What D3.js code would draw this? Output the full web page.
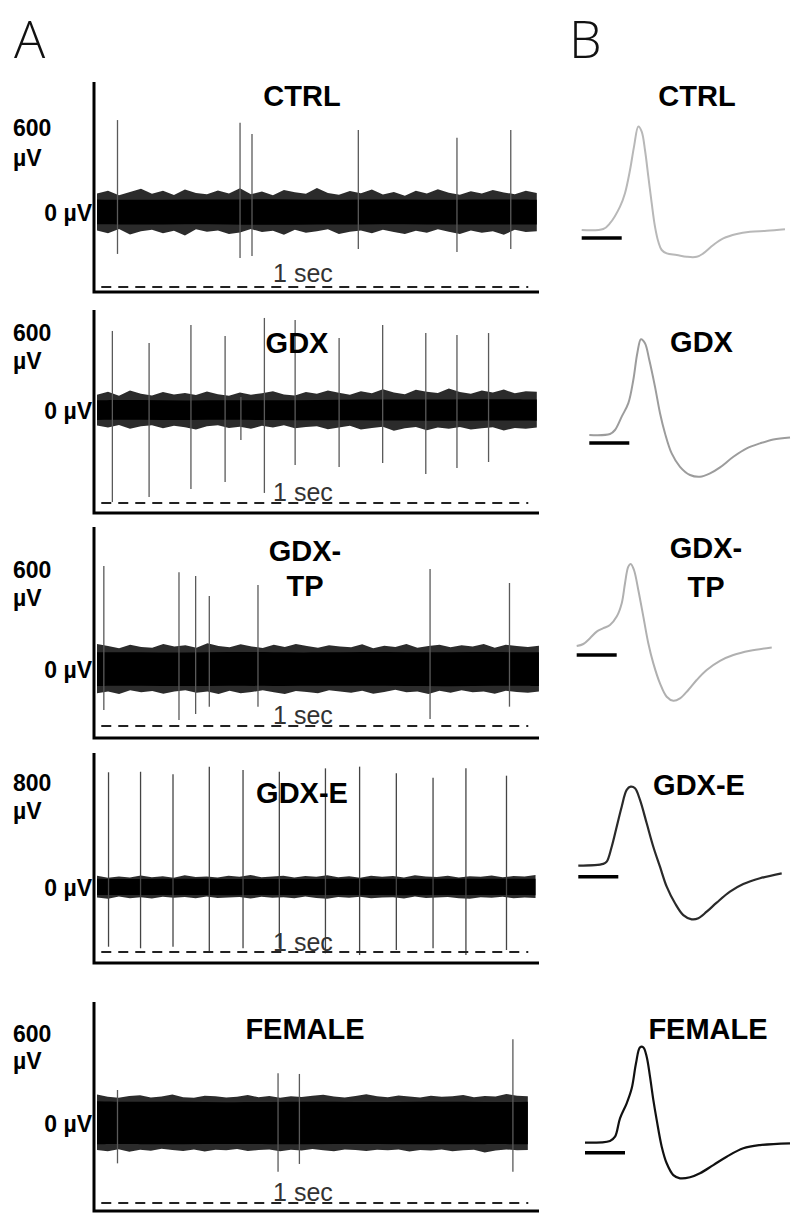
<!DOCTYPE html>
<html><head><meta charset="utf-8">
<script src="https://cdn.jsdelivr.net/npm/d3@7"></script>
<style>body{margin:0;background:#fff} svg{display:block}</style>
</head><body><svg id="c" width="791" height="1214"></svg>
<script>
// ================= DATA =================
const groups = ["CTRL","GDX","GDX-TP","GDX-E","FEMALE"];
const titleLines = [["CTRL"],["GDX"],["GDX-","TP"],["GDX-E"],["FEMALE"]];
const scaleLabels = [600,600,600,800,600];          // µV label on each raw trace
const timeBarLabel = "1 sec";
const timeBar = [0.01, 1.01];                        // s
const traceEnd = [1.03, 1.03, 1.035, 1.027, 1.009];  // s

// spikes: time (s), positive peak (µV), negative peak (µV)
const ctrlSpikeT  = [0.048,0.335,0.363,0.612,0.843,0.969];
const ctrlSpikeUp = [649,630,551,579,524,579];
const ctrlSpikeDn = [-296,-325,-311,-261,-282,-261];
const gdxSpikeT  = [0.036,0.122,0.220,0.300,0.337,0.392,0.464,0.567,0.669,0.770,0.843,0.917];
const gdxSpikeUp = [608,515,654,569,100,708,692,554,654,592,577,592];
const gdxSpikeDn = [-708,-669,-608,-554,-231,-638,-423,-438,-408,-492,-446,-400];
const tpSpikeT  = [0.016,0.192,0.231,0.263,0.377,0.780,0.966];
const tpSpikeUp = [618,580,558,438,504,600,516];
const tpSpikeDn = [-246,-306,-270,-226,-226,-300,-226];
const eSpikeT  = [0.027,0.102,0.178,0.263,0.342,0.427,0.535,0.615,0.701,0.787,0.864,0.959];
const eSpikeUp = [874,878,859,917,891,878,904,917,866,833,904,848];
const eSpikeDn = [-455,-467,-455,-493,-467,-467,-505,-518,-480,-467,-518,-480];
const fSpikeT  = [0.048,0.424,0.474,0.974];
const fSpikeUp = [220,331,327,558];
const fSpikeDn = [-269,-325,-273,-325];

// background noise envelopes (µV), evenly spaced along each trace
const ctrlOuterUp = [130,150,118,142,165,128,150,120,158,135,125,152,130,168,126,145,118,155,140,128,170,135,122,148,132,158,124,142,115,150,130,160,136,122,146,130,155,138,126,150,135];
const ctrlOuterDn = [-130,-150,-120,-158,-136,-125,-150,-132,-165,-122,-140,-130,-155,-145,-120,-142,-132,-160,-126,-146,-136,-122,-156,-140,-130,-150,-125,-142,-156,-132,-146,-122,-140,-155,-130,-146,-135,-160,-125,-142,-135];
const ctrlCoreUp = [88,84,90,86,92,85,88,90,86,89,87];
const ctrlCoreDn = [-86,-90,-84,-88,-92,-86,-89,-85,-90,-87,-88];
const gdxOuterUp = [118,140,110,150,125,112,138,120,130,115,142,122,110,135,118,128,145,120,112,138,125,150,132,118,145,128,160,135,122,155,140,130,165,138,125,150,135,158,128,145,140];
const gdxOuterDn = [-120,-135,-115,-145,-125,-118,-140,-122,-132,-150,-125,-118,-138,-128,-145,-122,-135,-118,-140,-130,-125,-148,-135,-122,-150,-138,-128,-160,-140,-130,-155,-135,-145,-130,-150,-140,-132,-158,-138,-145,-135];
const gdxCoreUp = [75,78,72,76,74,78,80,82,80,84,80];
const gdxCoreDn = [-76,-74,-78,-75,-77,-80,-78,-82,-84,-80,-82];
const tpOuterUp = [150,138,125,145,132,128,150,135,142,128,155,138,130,148,135,126,145,132,150,138,128,142,135,130,148,125,140,132,150,128,138,145,130,142,135,150,128,145,138,132,140];
const tpOuterDn = [-145,-135,-150,-128,-140,-132,-148,-135,-128,-142,-135,-150,-130,-145,-138,-128,-140,-150,-132,-138,-145,-128,-135,-142,-130,-148,-138,-125,-140,-135,-150,-130,-142,-128,-140,-135,-148,-130,-138,-142,-135];
const tpCoreUp = [100,102,98,104,100,99,103,101,100,102,100];
const tpCoreDn = [-102,-100,-104,-99,-103,-101,-100,-102,-104,-100,-102];
const eOuterUp = [85,70,80,72,88,75,82,70,90,76,80,72,85,78,92,74,80,86,72,84,78,90,75,82,70,86,78,84,72,90,80,76,85,72,82,78,88,74,84,80,92];
const eOuterDn = [-80,-90,-72,-85,-78,-88,-74,-82,-76,-86,-72,-84,-80,-76,-88,-74,-82,-78,-86,-72,-84,-90,-76,-82,-74,-86,-80,-78,-88,-72,-84,-80,-76,-86,-90,-78,-82,-74,-86,-80,-84];
const eCoreUp = [62,60,64,60,62,61,63,60,62,64,62];
const eCoreDn = [-60,-62,-60,-63,-61,-62,-60,-63,-62,-60,-62];
const fOuterUp = [190,175,168,180,185,170,176,190,172,168,182,178,170,175,186,172,180,168,178,174,182,188,176,170,180,192,178,172,184,176,170,182,175,178,186,172,180,176,194,182,178];
const fOuterDn = [-180,-188,-175,-192,-178,-185,-172,-180,-186,-176,-190,-178,-182,-174,-186,-180,-176,-188,-178,-184,-174,-182,-188,-176,-180,-186,-178,-182,-176,-190,-180,-184,-176,-188,-182,-178,-196,-184,-176,-182,-180];
const fCoreUp = [145,140,142,138,140,143,140,139,142,140,141];
const fCoreDn = [-142,-140,-143,-140,-141,-142,-139,-141,-143,-140,-142];

// average spike waveforms: time (ms) and voltage (µV, relative to baseline)
const ctrlWaveT = [0,0.27,0.354,0.479,0.541,0.604,0.654,0.708,0.75,0.791,0.833,0.875,0.916,0.958,1.0,1.063,1.188,1.313,1.438,1.52,1.645,1.77,1.938,2.104,2.313,2.541];
const ctrlWaveV = [0,5,34,117,184,300,417,517,492,400,267,134,17,-59,-100,-117,-125,-134,-134,-117,-75,-42,-20,-9,-4,4];
const gdxWaveT = [0,0.259,0.321,0.405,0.488,0.55,0.6,0.646,0.696,0.75,0.821,0.884,0.946,1.03,1.134,1.259,1.384,1.509,1.634,1.801,1.968,2.134,2.3,2.509];
const gdxWaveV = [0,5,25,92,159,275,409,479,459,375,242,109,9,-92,-159,-200,-209,-192,-162,-109,-67,-42,-22,-12];
const tpWaveT = [0,0.083,0.166,0.25,0.333,0.416,0.5,0.563,0.604,0.645,0.675,0.716,0.77,0.833,0.895,0.958,1.041,1.125,1.208,1.291,1.395,1.5,1.625,1.791,1.958,2.166,2.438];
const tpWaveV = [0,10,39,72,89,105,147,214,314,397,410,380,280,147,14,-87,-187,-254,-274,-262,-220,-170,-120,-74,-45,-24,-7];
const eWaveT = [0,0.3125,0.355,0.4175,0.48,0.5425,0.605,0.655,0.709,0.771,0.855,0.9375,1.021,1.105,1.209,1.3125,1.4175,1.5,1.605,1.73,1.896,2.0625,2.271,2.5425];
const eWaveV = [0,9,20,95,195,295,379,395,387,329,212,95,-5,-105,-188,-247,-268,-263,-230,-185,-130,-92,-63,-38];
const fWaveT = [0,0.3125,0.375,0.4375,0.521,0.584,0.6375,0.6875,0.729,0.771,0.8125,0.854,0.896,0.959,1.021,1.104,1.1875,1.3125,1.4375,1.604,1.771,1.979,2.1875,2.5625];
const fWaveV = [0,9,30,122,197,272,397,477,477,430,330,214,114,-20,-103,-162,-178,-173,-153,-112,-70,-28,-12,-3];
const waveBarMs = [0, 0.5];

// ================= ASSEMBLY =================
const spikes = [
  [ctrlSpikeT,ctrlSpikeUp,ctrlSpikeDn],[gdxSpikeT,gdxSpikeUp,gdxSpikeDn],
  [tpSpikeT,tpSpikeUp,tpSpikeDn],[eSpikeT,eSpikeUp,eSpikeDn],[fSpikeT,fSpikeUp,fSpikeDn]];
const noise = [
  [ctrlOuterUp,ctrlOuterDn,ctrlCoreUp,ctrlCoreDn],[gdxOuterUp,gdxOuterDn,gdxCoreUp,gdxCoreDn],
  [tpOuterUp,tpOuterDn,tpCoreUp,tpCoreDn],[eOuterUp,eOuterDn,eCoreUp,eCoreDn],[fOuterUp,fOuterDn,fCoreUp,fCoreDn]];
const waves = [[ctrlWaveT,ctrlWaveV],[gdxWaveT,gdxWaveV],[tpWaveT,tpWaveV],[eWaveT,eWaveV],[fWaveT,fWaveV]];

// ================= LAYOUT / STYLE =================
const layoutA = [
 {top:82,  bottom:292, zero:212, label:127, unit:157, titleX:302, titleY:[95],      secY:273, dashY:287},
 {top:310, bottom:513, zero:410, label:332, unit:360, titleX:297, titleY:[342],     secY:492, dashY:503},
 {top:527, bottom:738, zero:669, label:569, unit:597, titleX:305, titleY:[550,585], secY:715, dashY:726},
 {top:753, bottom:963, zero:887, label:782, unit:810, titleX:302, titleY:[792],     secY:942, dashY:952},
 {top:1002,bottom:1211,zero:1123,label:1033,unit:1060,titleX:305, titleY:[1028],    secY:1192,dashY:1203}
];
const layoutB = [
 {x0:581.7, base:230,   barOff:8,  titleX:697,   titleY:[95],      color:"#b8b8b8"},
 {x0:589.3, base:435,   barOff:8,  titleX:701.5, titleY:[341],     color:"#9c9c9c"},
 {x0:576.7, base:646,   barOff:9,  titleX:706,   titleY:[547,586], color:"#b0b0b0"},
 {x0:578.3, base:865.7, barOff:11, titleX:699,   titleY:[784],     color:"#2a2a2a"},
 {x0:585,   base:1142.7,barOff:10, titleX:708,   titleY:[1028],    color:"#111111"}
];
const axisLeft = 94, axisRight = 539;
const FONT = "'Liberation Sans', Arial, Helvetica, sans-serif";

const svg = d3.select("#c");
svg.append("rect").attr("width",791).attr("height",1214).attr("fill","#fff");

// panel letters
[["A",14],["B",569]].forEach(([t,px])=>{
  svg.append("text").attr("x",px).attr("y",58).text(t)
    .attr("font-family","'Open Sans', 'Liberation Sans', sans-serif").attr("font-weight",300)
    .attr("font-size",52).attr("fill","#111");
});

const x = d3.scaleLinear().domain([0,1]).range([97,524]);

groups.forEach((g,i)=>{
  const L = layoutA[i];
  const y = d3.scaleLinear().domain([0, scaleLabels[i]]).range([L.zero, L.label]);
  const G = svg.append("g");
  const [oU,oD,cU,cD] = noise[i];
  const tO = d3.range(oU.length).map(k=>k*traceEnd[i]/(oU.length-1));
  const tC = d3.range(cU.length).map(k=>k*traceEnd[i]/(cU.length-1));

  // noise: ragged outer fringe then dense core
  G.append("path").datum(d3.range(oU.length))
    .attr("d", d3.area().x(k=>x(tO[k])).y0(k=>y(oD[k])).y1(k=>y(oU[k])))
    .attr("fill","#2b2b2b");
  G.append("path").datum(d3.range(cU.length))
    .attr("d", d3.area().x(k=>x(tC[k])).y0(k=>y(cD[k])).y1(k=>y(cU[k])).curve(d3.curveBasis))
    .attr("fill","#000");

  // spikes
  const [sT,sU,sD] = spikes[i];
  G.selectAll("line.sp").data(sT).join("line").attr("class","sp")
    .attr("x1",(d)=>x(d)).attr("x2",(d)=>x(d))
    .attr("y1",(d,k)=>y(sU[k])).attr("y2",(d,k)=>y(sD[k]))
    .attr("stroke", i===3 ? "#444" : "#5a5a5a").attr("stroke-width",1.3);

  // axes
  G.append("path")
    .attr("d",`M${axisLeft},${L.top}V${L.bottom}H${axisRight}`)
    .attr("fill","none").attr("stroke","#000").attr("stroke-width",3);

  // dashed 1-sec bar
  G.append("line").attr("x1",x(timeBar[0])).attr("x2",x(timeBar[1]))
    .attr("y1",L.dashY).attr("y2",L.dashY)
    .attr("stroke","#222").attr("stroke-width",2).attr("stroke-dasharray","10,7");
  G.append("text").attr("x",303).attr("y",L.secY+8.5).attr("text-anchor","middle")
    .attr("font-family",FONT).attr("font-size",25).attr("fill","#333").text(timeBarLabel);

  // labels
  G.append("text").attr("x",13).attr("y",y(scaleLabels[i])+8.5)
    .attr("font-family",FONT).attr("font-weight","bold").attr("font-size",23).text(scaleLabels[i]);
  G.append("text").attr("x",13).attr("y",L.unit+8.5)
    .attr("font-family",FONT).attr("font-weight","bold").attr("font-size",23).text("µV");
  G.append("text").attr("x",92).attr("y",y(0)+8.5).attr("text-anchor","end")
    .attr("font-family",FONT).attr("font-weight","bold").attr("font-size",23).text("0 µV");

  titleLines[i].forEach((t,j)=>{
    G.append("text").attr("x",L.titleX).attr("y",L.titleY[j]+10.5).attr("text-anchor","middle")
      .attr("font-family",FONT).attr("font-weight","bold").attr("font-size",29).text(t);
  });

  // ---- panel B ----
  const B = layoutB[i];
  const xb = d3.scaleLinear().domain([0,1]).range([B.x0, B.x0+80]);
  const yb = d3.scaleLinear().domain([0,500]).range([B.base, B.base-100]);
  const [wT,wV] = waves[i];
  svg.append("path").datum(d3.range(wT.length))
    .attr("d", d3.line().x(k=>xb(wT[k])).y(k=>yb(wV[k])).curve(d3.curveCatmullRom.alpha(0.5)))
    .attr("fill","none").attr("stroke",B.color).attr("stroke-width",i>=3?2.2:2);
  svg.append("line").attr("x1",xb(waveBarMs[0])).attr("x2",xb(waveBarMs[1]))
    .attr("y1",B.base+B.barOff).attr("y2",B.base+B.barOff)
    .attr("stroke","#000").attr("stroke-width",3.5);
  titleLines[i].forEach((t,j)=>{
    svg.append("text").attr("x",B.titleX).attr("y",B.titleY[j]+10.5).attr("text-anchor","middle")
      .attr("font-family",FONT).attr("font-weight","bold").attr("font-size",29).text(t);
  });
});
</script></body></html>
